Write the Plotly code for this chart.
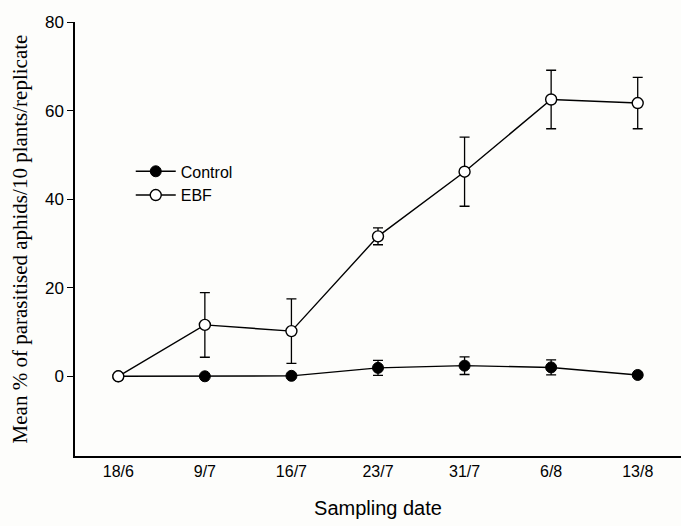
import plotly.graph_objects as go

dates = ["18/6", "9/7", "16/7", "23/7", "31/7", "6/8", "13/8"]
control_mean = [0, 0, 0.1, 1.9, 2.4, 2.0, 0.3]
control_err = [0, 0, 0, 1.7, 2.0, 1.7, 0]
ebf_mean = [0, 11.6, 10.2, 31.6, 46.2, 62.5, 61.7]
ebf_err = [0, 7.3, 7.3, 1.9, 7.8, 6.6, 5.8]
y_ticks = [0, 20, 40, 60, 80]

fig = go.Figure()
fig.add_trace(go.Scatter(
    x=dates, y=control_mean, name="Control", mode="lines+markers",
    line=dict(color="black", width=1.4),
    marker=dict(symbol="circle", size=11, color="black", line=dict(color="black", width=1)),
    error_y=dict(type="data", array=control_err, color="black", thickness=1.3, width=5),
))
fig.add_trace(go.Scatter(
    x=dates, y=ebf_mean, name="EBF", mode="lines+markers",
    line=dict(color="black", width=1.4),
    marker=dict(symbol="circle", size=11, color="white", line=dict(color="black", width=1.4)),
    error_y=dict(type="data", array=ebf_err, color="black", thickness=1.3, width=5),
))

fig.update_layout(
    width=681, height=526,
    margin=dict(l=75, r=0, t=22, b=70),
    paper_bgcolor="#fdfdfb", plot_bgcolor="#fdfdfb",
    font=dict(family="Liberation Sans, Arial", color="black", size=16),
    showlegend=True,
    legend=dict(x=0.092, y=0.695, xanchor="left", yanchor="top",
                bgcolor="rgba(0,0,0,0)", font=dict(size=16, family="Liberation Sans, Arial"),
                tracegroupgap=0, itemwidth=40),
)
fig.update_xaxes(
    type="category", range=[-0.5, 6.5], showgrid=False, zeroline=False,
    showline=True, linecolor="black", linewidth=1.5, ticks="",
    tickfont=dict(size=16),
    title=dict(text="Sampling date", font=dict(size=20, family="Liberation Sans, Arial"), standoff=22),
)
fig.update_yaxes(
    range=[-18, 80], tickvals=y_ticks, showgrid=False, zeroline=False,
    showline=True, linecolor="black", linewidth=1.5, ticks="outside", ticklen=6,
    tickcolor="black", tickwidth=1.2, tickfont=dict(size=17),
    title=dict(text="Mean % of parasitised aphids/10 plants/replicate",
               font=dict(size=21, family="Liberation Serif, Times New Roman"), standoff=12),
)

fig.write_html("out.html")
